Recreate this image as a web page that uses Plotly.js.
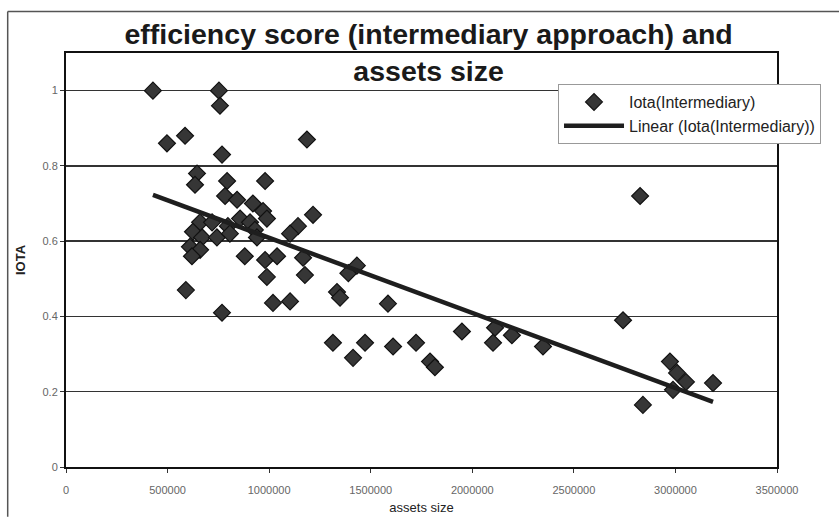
<!DOCTYPE html>
<html>
<head>
<meta charset="utf-8">
<script src="https://cdn.plot.ly/plotly-3.0.1.min.js"></script>
<style>html,body{margin:0;padding:0;background:#fff;}#chart{width:839px;height:520px;}</style>
</head>
<body>
<div id="chart"></div>
<script>
// assets size (x) and IOTA efficiency score (y)
var assetsSize = [428000, 753000, 758000, 497000, 586000, 768000, 1186000, 645000, 635000, 793000,
  980000, 783000, 842000, 920000, 970000, 989000, 1216000, 1142000, 1103000, 660000,
  719000, 797000, 857000, 906000, 930000, 940000, 625000, 670000, 743000, 807000,
  610000, 660000, 620000, 880000, 980000, 1039000, 989000, 1167000, 1176000, 1390000,
  1432000, 1334000, 1349000, 1019000, 1103000, 1585000, 768000, 590000, 1314000, 1413000,
  1472000, 1610000, 1723000, 1792000, 1816000, 1949000, 2112000, 2102000, 2195000, 2348000,
  2742000, 2826000, 2840000, 2973000, 3008000, 3052000, 2988000, 3185000];
var iota = [1.00, 1.00, 0.96, 0.86, 0.88, 0.83, 0.87, 0.78, 0.75, 0.76,
  0.76, 0.72, 0.71, 0.70, 0.68, 0.66, 0.67, 0.64, 0.62, 0.65,
  0.65, 0.64, 0.66, 0.65, 0.63, 0.61, 0.625, 0.61, 0.61, 0.62,
  0.585, 0.577, 0.56, 0.56, 0.55, 0.56, 0.505, 0.556, 0.51, 0.515,
  0.535, 0.465, 0.45, 0.436, 0.44, 0.434, 0.41, 0.47, 0.33, 0.29,
  0.33, 0.32, 0.33, 0.28, 0.265, 0.36, 0.37, 0.33, 0.35, 0.32,
  0.39, 0.72, 0.165, 0.28, 0.25, 0.226, 0.205, 0.223];
// linear trend line end points
var trendX = [428000, 3185000];
var trendY = [0.723, 0.173];
var xTicks = [0, 500000, 1000000, 1500000, 2000000, 2500000, 3000000, 3500000];
var yTicks = [0, 0.2, 0.4, 0.6, 0.8, 1];

var traces = [
  {
    x: assetsSize, y: iota, type: 'scatter', mode: 'markers',
    name: 'Iota(Intermediary)',
    marker: {symbol: 'diamond', size: 13, color: '#363636', line: {color: '#111', width: 1.2}}
  },
  {
    x: trendX, y: trendY, type: 'scatter', mode: 'lines',
    name: 'Linear (Iota(Intermediary))',
    line: {color: '#1e1e1e', width: 4.5}
  }
];

var tickFont = {family: 'Liberation Sans, Arial, sans-serif', size: 11, color: '#666'};
var layout = {
  width: 839, height: 520,
  margin: {l: 66, r: 62, t: 53, b: 53},
  paper_bgcolor: '#fff', plot_bgcolor: '#fff',
  title: {
    text: '<b>efficiency score (intermediary approach) and<br>assets size</b>',
    font: {family: 'Liberation Sans, Arial, sans-serif', size: 28.5, color: '#1a1a1a'},
    x: 0.51, xanchor: 'center', xref: 'paper',
    y: 0.915, yanchor: 'top', yref: 'container'
  },
  xaxis: {
    range: [0, 3500000], tickvals: xTicks, tickformat: 'd',
    showgrid: false, zeroline: false,
    showline: true, linecolor: '#111', linewidth: 2, mirror: true,
    ticks: 'outside', ticklen: 4, tickcolor: '#333',
    ticklabelstandoff: 8,
    tickfont: tickFont,
    title: {text: 'assets size', font: {family: 'Liberation Sans, Arial, sans-serif', size: 13, color: '#222'}, standoff: 8}
  },
  yaxis: {
    range: [0, 1.1], tickvals: yTicks,
    showgrid: true, gridcolor: '#333', gridwidth: 1.5, zeroline: false,
    showline: true, linecolor: '#111', linewidth: 2, mirror: true,
    ticks: 'outside', ticklen: 4, tickcolor: '#333',
    tickfont: tickFont,
    title: {text: '<b>IOTA</b>', font: {family: 'Liberation Sans, Arial, sans-serif', size: 13, color: '#222'}, standoff: 14}
  },
  showlegend: true,
  legend: {
    x: 0.692, y: 0.925, xanchor: 'left', yanchor: 'top',
    bgcolor: '#fff', bordercolor: '#999', borderwidth: 1,
    font: {family: 'Liberation Sans, Arial, sans-serif', size: 16, color: '#222'},
    itemwidth: 60, tracegroupgap: 0
  },
  shapes: [
    {type: 'line', xref: 'paper', yref: 'paper', x0: -0.082, x1: 1.09, y0: 1.1, y1: 1.1, line: {color: '#555', width: 1.5}},
    {type: 'line', xref: 'paper', yref: 'paper', x0: -0.082, x1: -0.082, y0: 1.1, y1: -0.12, line: {color: '#555', width: 1.5}}
  ]
};

Plotly.newPlot('chart', traces, layout, {displayModeBar: false, staticPlot: true});
</script>
</body>
</html>
